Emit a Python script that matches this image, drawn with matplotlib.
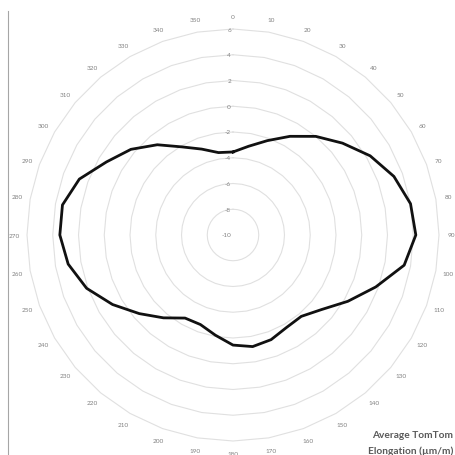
import numpy as np
import matplotlib
matplotlib.use("Agg")
import matplotlib.pyplot as plt
from matplotlib.lines import Line2D

# ---- data ----
angles_deg = list(range(0, 360, 10))
elongation = [-3.55, -3.0, -2.2, -1.15, 0.0, 1.1, 2.3, 3.3, 4.0, 4.2,
              3.5, 1.8, 0.3, -1.0, -1.75, -1.7, -1.35, -1.2, -1.45, -2.1,
              -2.6, -2.55, -1.6, -0.5, 0.8, 2.1, 3.0, 3.45, 3.45, 2.7,
              1.35, 0.35, -0.85, -2.1, -2.9, -3.5]
radial_ticks = [-10, -8, -6, -4, -2, 0, 2, 4, 6]
title_lines = ["Average TomTom", "Elongation (\u00b5m/m)"]

rmin, rmax = -10, 6

fig = plt.figure(figsize=(4.56, 4.56), dpi=100)
W = 456.0
cx, cy, R = 233.0, 236.0, 206.0
ax = fig.add_axes([(cx - R) / W, (W - cy - R) / W, 2 * R / W, 2 * R / W],
                  projection="polar")
ax.set_theta_zero_location("N")
ax.set_theta_direction(-1)
ax.set_ylim(rmin, rmax)
ax.grid(False)
ax.set_xticks([])
ax.set_yticks([])
ax.spines["polar"].set_visible(False)
ax.patch.set_alpha(0)

theta = np.deg2rad(angles_deg)
theta_closed = np.append(theta, theta[0])

# polygon gridlines
for v in radial_ticks:
    if v == rmin:
        continue
    ax.plot(theta_closed, [v] * len(theta_closed), color="#e0e0e0", lw=0.8,
            zorder=1, clip_on=False)

# data line
vals = np.append(elongation, elongation[0])
ax.plot(theta_closed, vals, color="#111111", lw=2.0, zorder=3,
        solid_joinstyle="round", clip_on=False)

label_color = "#808080"
# angle labels
for a, t in zip(angles_deg, theta):
    ax.text(t, 7.0, str(a), ha="center", va="center", fontsize=4.6,
            color=label_color, family="Lato", clip_on=False)

# radial labels
for v in radial_ticks:
    ax.annotate(str(v), xy=(0, v), xytext=(-2, 0), textcoords="offset pixels",
                ha="right", va="center", fontsize=4.6, color=label_color,
                family="Lato", annotation_clip=False, zorder=2)

# left vertical line
fig.add_artist(Line2D([8 / W, 8 / W], [0, 1 - 12 / W], color="#a6a6a6",
                      lw=0.8, transform=fig.transFigure))

# title
fig.text(453 / W, 1 - 436 / W, title_lines[0], ha="right", va="center",
         fontsize=7.3, fontweight="bold", color="#595959", family="Lato")
fig.text(453 / W, 1 - 451 / W, title_lines[1], ha="right", va="center",
         fontsize=7.3, fontweight="bold", color="#595959", family="Lato")

fig.savefig("out.png", dpi=100)
